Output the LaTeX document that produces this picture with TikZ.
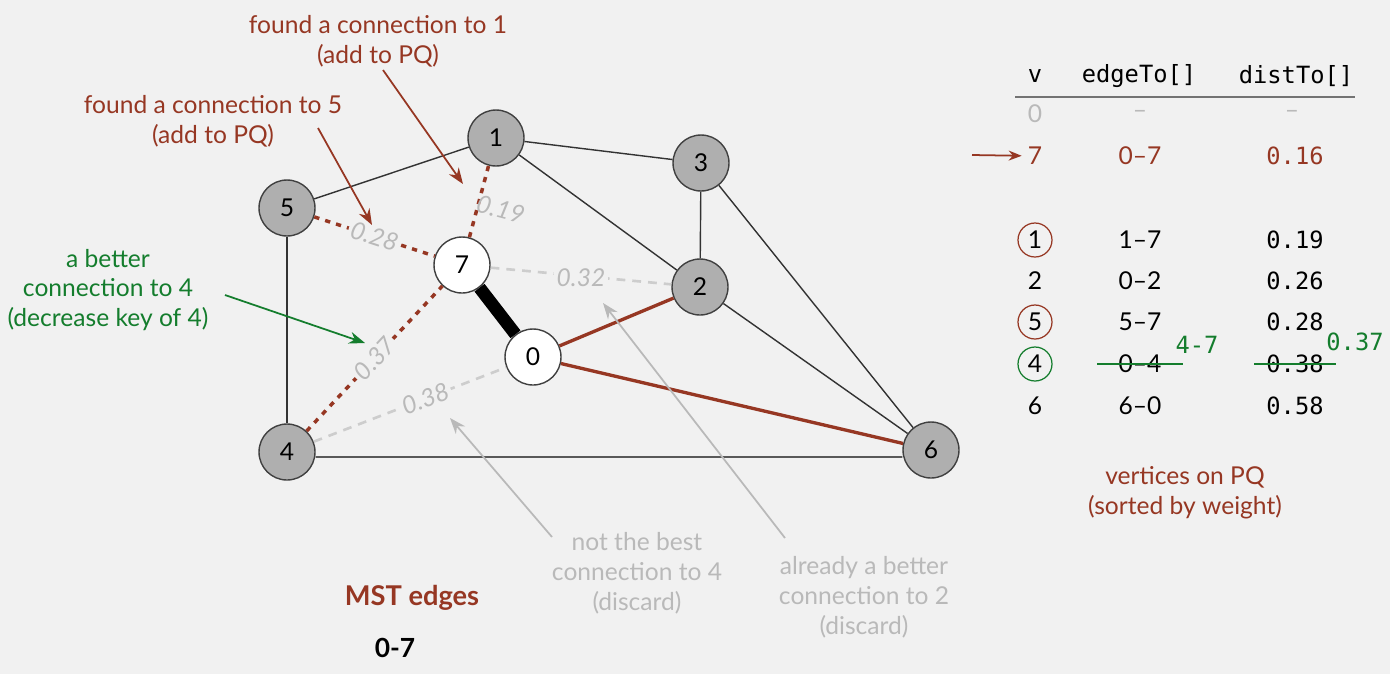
\documentclass[tikz,border=0pt]{standalone}
\usepackage{fontspec}
\setmainfont{Lato}
\setmonofont{DejaVu Sans Mono}
\usepackage{tikz}
\usetikzlibrary{arrows.meta, positioning}
\definecolor{bgGray}{RGB}{241,241,241}
\definecolor{brownPQ}{RGB}{150,55,35}
\definecolor{greenKey}{RGB}{20,125,45}
\definecolor{grayTxt}{RGB}{185,185,185}
\definecolor{grayLine}{RGB}{205,205,205}
\definecolor{vtxGray}{RGB}{175,175,175}

\begin{document}
\begin{tikzpicture}[
  x=0.02cm, y=-0.02cm,
  vtx/.style={circle, draw=black!75, line width=0.8pt, fill=vtxGray,
    minimum size=1.12cm, inner sep=0pt, font=\fontsize{14}{16}\selectfont},
  vtxTree/.style={vtx, fill=white},
  edgeG/.style={line width=0.8pt, draw=black!80},
  edgeMST/.style={line width=7.2pt, draw=black},
  edgeBest/.style={line width=1.9pt, draw=brownPQ},
  edgePQ/.style={line width=2pt, draw=brownPQ, dash pattern=on 3pt off 3.5pt},
  edgeOld/.style={line width=1.5pt, draw=grayLine, dash pattern=on 5pt off 4pt},
  wt/.style={font=\fontsize{14}{16}\selectfont\itshape, text=grayTxt,
    fill=bgGray, inner sep=1.5pt, sloped},
  note/.style={align=center, font=\fontsize{14}{17}\selectfont},
  tblHead/.style={font=\ttfamily\fontsize{13.5}{15}\selectfont},
  tbl/.style={font=\fontsize{14}{16}\selectfont},
  tblNum/.style={font=\ttfamily\fontsize{13.5}{15}\selectfont},
  ring/.style={circle, draw, line width=0.7pt, minimum size=0.68cm, inner sep=0pt},
  pointer/.style={-{Stealth[length=3.2mm, width=2.4mm]}, line width=1pt}
]
  \fill[bgGray] (0,0) rectangle (1390,674);
  \useasboundingbox (0,0) rectangle (1390,674);

  % graph
  \node[vtx] (v1) at (496,138) {1};
  \node[vtx] (v3) at (701,163) {3};
  \node[vtx] (v5) at (287,208) {5};
  \node[vtxTree] (v7) at (462,265) {7};
  \node[vtx] (v2) at (700,287) {2};
  \node[vtxTree] (v0) at (533,357) {0};
  \node[vtx] (v4) at (287,452) {4};
  \node[vtx] (v6) at (931,450) {6};

  \draw[edgeG] (v5) -- (v1);
  \draw[edgeG] (v1) -- (v3);
  \draw[edgeG] (v1) -- (v2);
  \draw[edgeG] (v3) -- (v2);
  \draw[edgeG] (v3) -- (v6);
  \draw[edgeG] (v2) -- (v6);
  \draw[edgeG] (v5) -- (v4);
  \draw[edgeG, black!65, line width=1pt] ([yshift=-0.1cm]v4.east) -- ([yshift=-0.14cm]v6.west);
  \draw[edgeMST] (v7) -- (v0);
  \draw[edgeBest] (v0) -- (v2);
  \draw[edgeBest] (v0) -- (v6);
  \draw[edgeOld] (v7) -- node[wt, sloped=false, yshift=-0.04cm] {0.32} (v2);
  \draw[edgeOld] (v4) -- node[wt, pos=0.58] {0.38} (v0);
  \draw[edgePQ] (v7) -- node[wt, sloped=false, rotate=-15, fill=none,
    xshift=0.46cm, yshift=-0.04cm] {0.19} (v1);
  \draw[edgePQ] (v5) -- node[wt] {0.28} (v7);
  \draw[edgePQ] (v4) -- node[wt] {0.37} (v7);

  % notes and pointers
  \node[note, text=brownPQ] (noteOne) at (378,41) {found a connection to 1\\(add to PQ)};
  \node[note, text=brownPQ] (noteFive) at (213,121) {found a connection to 5\\(add to PQ)};
  \node[note, text=greenKey] (noteKey) at (108,290) {a better\\connection to 4\\(decrease key of 4)};
  \node[note, text=grayTxt] (noteFar) at (637,573) {not the best\\connection to 4\\(discard)};
  \node[note, text=grayTxt] (noteOld) at (864,597) {already a better\\connection to 2\\(discard)};
  \coordinate (tipOne) at (463,184);
  \coordinate (tipFive) at (372,225);
  \coordinate (tipKey) at (365,343);
  \coordinate (tipFar) at (450,418);
  \coordinate (tipOld) at (603,303);
  \draw[pointer, brownPQ] (383,70) -- (tipOne);
  \draw[pointer, brownPQ] (318,128) -- (tipFive);
  \draw[pointer, greenKey] (225,295) -- (tipKey);
  \draw[pointer, grayTxt] (552,537) -- (tipFar);
  \draw[pointer, grayTxt] (785,538) -- (tipOld);

  \node[font=\fontsize{15.5}{18}\selectfont\bfseries, text=brownPQ] (mstHead) at (412,598) {MST edges};
  \node[font=\fontsize{15}{18}\selectfont\bfseries, below=0.3cm of mstHead, xshift=-0.34cm] (mstList) {0-7};

  % table
  \node[tblHead] (hV) at (1035,76) {v};
  \node[tblHead] (hE) at (1139,76) {edgeTo[]};
  \node[tblHead] (hD) at (1296,76) {distTo[]};
  \draw[line width=1.6pt, black!55] (1015,97) -- (1355,97);

  \node[tbl, text=grayTxt] (r0v) at (1035,114) {0};
  \node[tbl, text=grayTxt] (r0e) at (1140,114) {–};
  \node[tbl, text=grayTxt] (r0d) at (1292,114) {–};
  \node[tbl, text=brownPQ] (r7v) at (1035,156) {7};
  \node[tbl, text=brownPQ] (r7e) at (1140,156) {0–7};
  \node[tblNum, text=brownPQ] (r7d) at (1295,156) {0.16};
  \coordinate (rowPtr) at (972,155);
  \draw[-{Stealth[length=2.6mm, width=2mm]}, line width=1pt, brownPQ] (rowPtr) -- (r7v);

  \node[tbl, ring, draw=brownPQ] (r1v) at (1035,240) {1};
  \node[tbl] (r1e) at (1140,240) {1–7};
  \node[tblNum] (r1d) at (1295,240) {0.19};
  \node[tbl] (r2v) at (1035,281) {2};
  \node[tbl] (r2e) at (1140,281) {0–2};
  \node[tblNum] (r2d) at (1295,281) {0.26};
  \node[tbl, ring, draw=brownPQ] (r5v) at (1035,322) {5};
  \node[tbl] (r5e) at (1140,322) {5–7};
  \node[tblNum] (r5d) at (1295,322) {0.28};
  \node[tbl, ring, draw=greenKey] (r4v) at (1035,364) {4};
  \node[tbl] (r4e) at (1140,364) {0–4};
  \node[tblNum] (r4d) at (1295,364) {0.38};
  \node[tbl] (r6v) at (1035,406) {6};
  \node[tbl] (r6e) at (1140,406) {6–0};
  \node[tblNum] (r6d) at (1295,406) {0.58};

  \draw[line width=1.2pt, greenKey] ([xshift=-0.3cm]r4e.west) -- ([xshift=0.3cm]r4e.east);
  \draw[line width=1.2pt, greenKey] ([xshift=-0.12cm]r4d.west) -- ([xshift=0.12cm]r4d.east);
  \node[tblNum, text=greenKey] (r4eNew) at (1197,345) {4-7};
  \node[tblNum, text=greenKey] (r4dNew) at (1355,342) {0.37};

  \node[note, text=brownPQ] (notePQ) at (1185,493) {vertices on PQ\\(sorted by weight)};
\end{tikzpicture}
\end{document}
